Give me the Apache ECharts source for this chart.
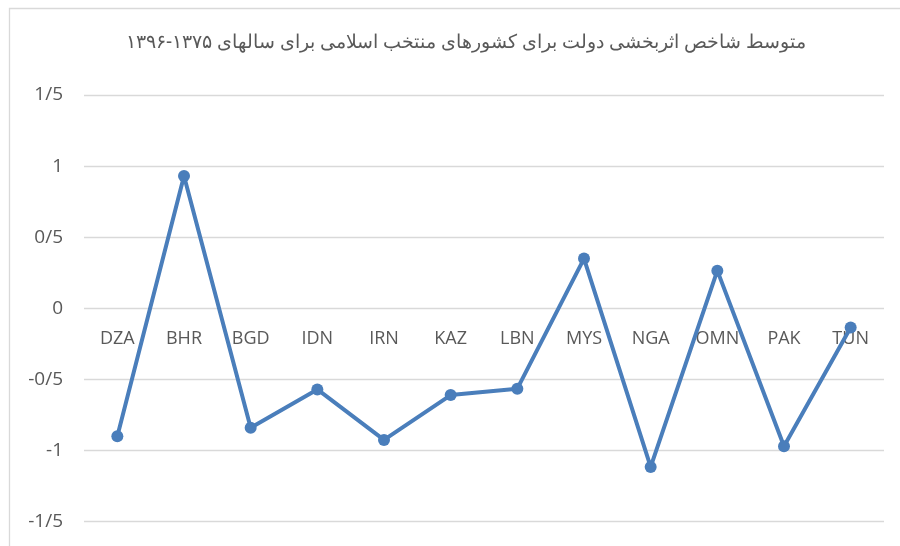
<!DOCTYPE html>
<html>
<head>
<meta charset="utf-8">
<script src="https://cdn.jsdelivr.net/npm/echarts@6/dist/echarts.min.js"></script>
<style>html,body{margin:0;padding:0;background:#fff;}#c{width:900px;height:546px;}</style>
</head>
<body>
<div id="c"></div>
<script>
const titleText = 'متوسط شاخص اثربخشی دولت برای کشورهای منتخب اسلامی برای سالهای ۱۳۷۵-۱۳۹۶';
const categories = ['DZA','BHR','BGD','IDN','IRN','KAZ','LBN','MYS','NGA','OMN','PAK','TUN'];
const values = [-0.90, 0.93, -0.84, -0.57, -0.925, -0.61, -0.565, 0.35, -1.115, 0.265, -0.97, -0.135];
const yMin = -1.5, yMax = 1.5, yStep = 0.5;

const gridTop = 95, gridBottom = 24.3, chartH = 546;
const plotH = chartH - gridTop - gridBottom;
// distance from bottom edge of plot to the zero value line
const zeroOffset = plotH * (0 - yMin) / (yMax - yMin);

const chart = echarts.init(document.getElementById('c'));
chart.setOption({
  backgroundColor: '#ffffff',
  animation: false,
  graphic: [{
    type: 'rect',
    silent: true,
    shape: { x: 9.5, y: 8.5, width: 1000, height: 1000 },
    style: { fill: 'none', stroke: '#d9d9d9', lineWidth: 1.3 }
  }],
  title: {
    text: titleText,
    left: 121,
    top: 28,
    textStyle: { fontFamily: 'Noto Sans', fontSize: 19, fontWeight: 'normal', color: '#595959' }
  },
  grid: { left: 84, right: 16, top: gridTop, bottom: gridBottom, outerBoundsMode: 'none', containLabel: false },
  xAxis: {
    type: 'category',
    data: categories,
    boundaryGap: true,
    position: 'bottom',
    offset: -zeroOffset,
    axisLine: { show: false, onZero: false },
    axisTick: { show: false },
    axisLabel: { color: '#595959', fontSize: 18, fontFamily: 'Open Sans', margin: 22 }
  },
  yAxis: {
    type: 'value',
    min: yMin, max: yMax, interval: yStep,
    axisLine: { show: false },
    axisTick: { show: false },
    splitLine: { lineStyle: { color: '#d9d9d9', width: 1.3 } },
    axisLabel: {
      color: '#595959', fontSize: 19, fontFamily: 'Open Sans', margin: 21,
      formatter: v => String(Math.round(v * 10) / 10).replace('.', '/')
    }
  },
  series: [{
    type: 'line',
    data: values,
    symbol: 'circle',
    symbolSize: 12,
    lineStyle: { color: '#4a7ebb', width: 4 },
    itemStyle: { color: '#4a7ebb' }
  }]
});
</script>
</body>
</html>
